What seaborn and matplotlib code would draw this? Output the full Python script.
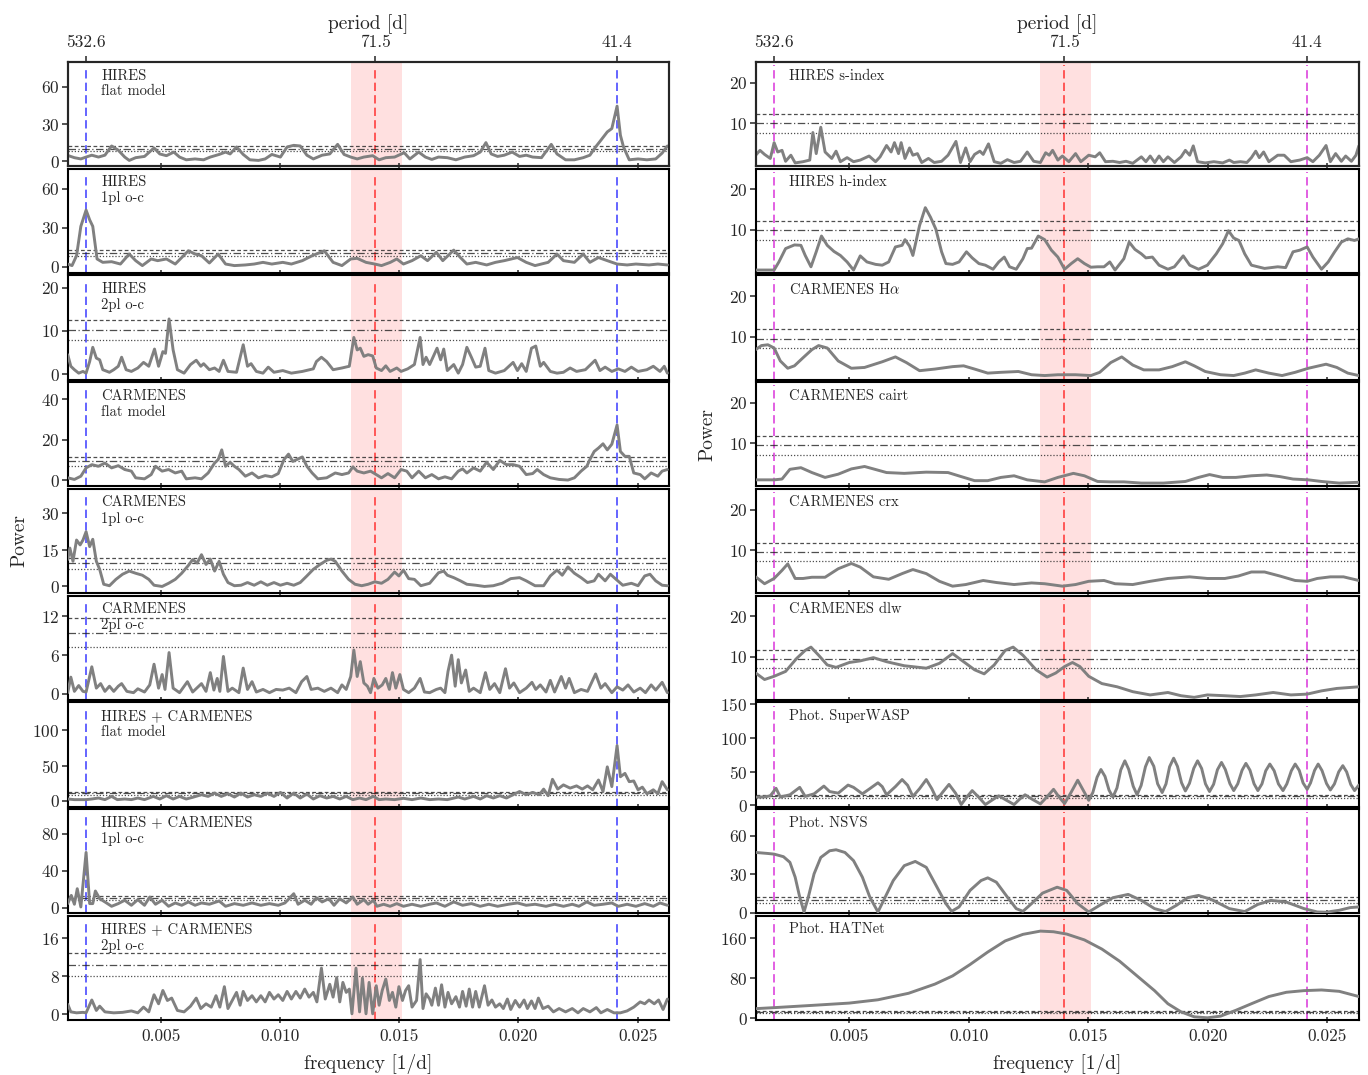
import numpy as np
import matplotlib
matplotlib.use("Agg")
import matplotlib.pyplot as plt
from matplotlib.ticker import FormatStrFormatter
import seaborn as sns

sns.set_style("ticks")
plt.rcParams.update({
    "font.family": ["cmr10", "DejaVu Serif"],
    "mathtext.fontset": "cm",
    "axes.formatter.use_mathtext": True,
    "axes.unicode_minus": False,
})

# ---------------- data (frequency in units of 1e-4 1/d, power) ----------------
f_hires_flat = [11.0,13.8,16.5,18.7,21.1,23.9,26.6,29.4,32.2,34.9,36.8,39.5,43.2,47.2,49.6,52.4,55.5,57.9,60.7,64.4,68.0,70.8,74.5,77.2,79.1,81.8,84.6,87.4,91.0,93.8,96.6,100.2,103.0,105.8,108.5,111.3,114.0,117.7,120.9,124.2,126.9,129.7,132.4,135.2,138.9,141.6,144.4,148.1,152.1,154.5,158.2,161.0,163.7,166.5,170.2,173.8,177.5,181.2,184.0,186.4,188.6,191.3,194.1,197.4,200.5,203.3,206.0,209.7,213.8,216.2,219.8,223.5,227.2,230.0,232.4,234.6,237.3,239.2,241.4,242.8,244.1,246.5,250.2,253.9,257.6,260.3,262.5]
p_hires_flat = [4.8,3,2,3.5,5,3.5,5,12.4,9,3.5,0.8,3,4,10.8,6,4.6,7.5,3.5,1.3,2,1.3,3.5,5.6,7.5,6,11.6,5.6,1.3,0.8,2,5.6,3.5,11.6,12.9,12.4,5,2,5,6,13.7,5.6,3.5,2,3.5,4.6,1.3,3,3.5,7,2,7.5,3.5,1.6,3.5,3,1.3,3.5,4.6,7.5,15.1,6,4,5,7.5,4,5,3.5,3,13.7,6,1.3,1.3,3,5,11.6,17,23.7,26.4,44.4,21,11.6,1.3,2,1.3,2,6.7,12.4]

f_hires_1pl = [11.0,12.8,14.7,16.5,18.7,20.2,21.5,23.3,25.7,29.4,33.1,36.8,39.5,42.3,46.0,48.7,52.4,56.1,61.6,64.4,67.1,70.4,74.1,77.2,80.9,85.5,89.2,92.9,96.6,101.2,104.8,109.4,113.5,118.6,122.3,126.0,129.7,132.4,136.1,139.8,142.6,146.3,149.0,151.8,155.4,159.1,161.9,165.6,168.3,172.9,175.7,178.4,182.1,186.7,190.4,194.1,199.6,203.3,207.0,212.5,216.2,218.9,223.5,227.2,230.0,233.6,237.3,241.4,245.6,249.3,254.8,258.5,262.5]
p_hires_1pl = [2,0.8,8.4,31,43.5,36,31,5.9,3.3,3.8,2,9.7,4.6,0.8,5.9,4.6,5.9,2,12.2,9.7,8.4,2.8,9.7,2,0.8,1.3,2,3.3,2,3.3,2,4.6,8.4,12.2,3.3,0.8,5.9,6.4,3.3,2,0.8,3.3,5.9,2,4.6,8.4,4.6,11,4.6,12.7,7,2,3.3,1.3,3.3,4.6,7,3.3,0.8,3.3,9.7,4.6,3.3,9.7,3.3,7,4.6,2,1.3,2,1.3,2,1.3]

f_hires_2pl = [11.0,12.3,13.8,15.6,17.4,18.7,20.2,21.5,23.0,24.4,25.7,28.5,30.3,32.2,33.6,35.5,37.7,40.4,42.8,45.0,47.4,49.1,50.9,52.0,53.5,55.2,57.0,59.8,62.5,64.9,66.8,68.0,70.4,72.6,74.5,76.3,78.2,81.8,84.6,86.4,87.9,90.1,92.9,95.1,97.5,101.2,104.8,109.4,114.0,115.3,117.4,119.6,122.3,126.0,129.1,131.0,132.4,133.7,135.2,137.0,138.9,140.4,142.6,144.4,146.2,149.0,150.8,153.6,156.4,158.8,160.0,161.3,162.8,165.9,167.4,168.7,170.2,172.9,174.8,176.6,178.4,180.3,182.1,184.0,186.0,187.6,190.4,194.1,197.8,199.6,201.4,203.3,205.5,207.3,209.2,210.6,213.4,216.2,218.9,221.7,224.4,228.1,232.2,234.2,236.4,239.2,241.9,244.7,247.4,250.2,253.9,256.6,259.4,261.2,262.5]
p_hires_2pl = [4.5,1.8,1,0.2,0.6,0.2,2.9,6.2,3.7,3.3,1,0.4,1,1.8,3.9,1,0.6,1.4,2.7,1.8,5.8,1.8,5.2,4.8,12.8,5.6,1,0.2,2.2,3.2,1.8,2.4,1,1.4,0.6,3.2,0.6,0.4,6.8,1.8,2.4,0.6,0.2,1.6,0.4,0.8,0.2,0.6,1.2,2.9,3.9,2.9,1,1.4,1.8,8.5,5.6,6,4.1,4.5,4.2,1.4,0.8,1.9,0.6,1.4,0.6,1.2,2.2,8.5,2.2,3.9,2.2,6,3.3,5.8,0.8,2.2,0.2,2.2,6.2,3.9,1.6,1.8,6,0.8,0.2,0.8,2.7,0.8,2.4,0.6,6,6.5,1.8,2.7,0.6,0.2,0.4,1.4,0.6,1,3.2,0.8,1.6,0.6,1.2,0.6,1.6,0.6,1,1.8,0.6,1.8,0.2]

f_carm_flat = [11.0,13.8,16.5,18.7,21.1,23.9,26.6,29.4,32.2,34.9,37.7,39.5,43.2,46.0,47.8,50.6,53.3,56.1,58.8,60.7,64.4,67.1,69.9,72.6,74.1,75.6,77.2,79.1,80.9,82.8,85.5,88.3,91.0,93.8,96.6,99.3,101.7,103.6,105.4,107.6,109.4,111.3,113.5,115.9,119.6,123.2,126.0,128.8,130.6,132.4,135.2,138.0,140.4,142.6,145.3,148.1,150.8,153.2,155.4,158.2,161.0,163.7,166.5,169.2,172.0,174.8,176.6,178.4,181.2,184.0,186.7,189.5,192.2,195.0,197.8,200.5,203.3,206.0,207.9,210.6,213.4,217.1,220.8,223.5,226.3,228.7,230.0,231.8,233.6,235.5,237.3,239.2,241.4,242.8,244.7,246.5,248.4,251.1,253.0,255.7,258.5,260.3,262.5]
p_carm_flat = [1.3,0.5,2.1,6.2,7.8,7,8.6,6.2,7.3,5.4,4.6,1.3,0.8,2.9,7,4.6,5.4,3.7,4.6,0.8,1.3,0.8,3.7,8.6,10.3,15.1,7,9,7,5.4,2.1,3.7,1.3,2.4,1.8,3.4,10.3,13,9.4,10.6,11.6,7,3.7,0.8,1.3,3.7,2.9,3.7,6.7,4.6,3.7,4.6,2.9,1.3,3.4,1.3,5.4,4.6,1.3,4.6,1.3,2.9,0.8,1.8,0.8,4.6,5.7,3.7,6.2,4.6,9,5.4,9.9,7.8,7.8,7,2.9,3.4,5.4,2.9,1.3,0.5,0.2,1.3,4.6,7,10.3,14.3,16,18.1,15.1,17.9,27.4,14.3,11.9,11.9,3.7,2.9,0.8,3.7,2.1,4.6,5.4]

f_carm_1pl = [11.0,11.9,13.2,14.7,16.2,17.4,18.7,20.2,21.5,23.0,24.4,26.1,28.5,31.2,34.0,36.8,39.5,42.3,45.0,47.2,50.6,53.3,56.1,58.8,61.6,63.4,65.3,67.1,69.0,70.8,72.6,74.5,76.3,78.2,80.9,83.7,86.4,89.2,92.0,94.7,97.5,100.2,103.0,105.8,108.5,111.3,114.0,116.8,119.6,121.4,123.2,126.0,128.8,131.5,134.3,137.0,139.8,142.6,145.3,148.1,149.9,151.8,154.0,156.4,159.1,162.8,166.5,168.7,170.2,172.9,175.7,178.4,182.1,185.8,189.5,193.2,196.8,200.5,203.3,207.0,210.6,213.4,216.2,218.4,220.8,223.5,226.3,229.0,231.8,233.6,236.4,238.6,241.0,243.8,247.4,250.2,253.0,255.2,257.6,260.3,262.5]
p_carm_1pl = [11,15.7,10.3,19,17,19,22.4,16.3,19.3,10.3,7,0.9,0.3,2.9,5,6.3,5.4,4.6,2.9,0.5,0,1.3,2.9,5.4,8.6,11,9.6,13,9,11.2,6.3,10.3,5,1.6,0.3,0.5,1.6,0.5,1.9,0.5,1.6,0.5,1.3,0.5,1.6,4.3,7,9,10.7,11.2,10.3,6.3,2.9,0.9,0.3,0.9,1.9,1.3,2.9,5.9,4.3,6.7,3.2,2.9,0.3,1.3,5.6,6.3,4.6,3.6,2.3,0.9,0.5,0,0.3,1.3,3.2,3.6,2.3,0.3,0.3,4.3,6.7,4.6,8,5.4,3.6,1.6,2.3,5,2.3,5,2.9,0.5,1.3,0.3,4.3,5,2.3,0.5,0.3]

f_carm_2pl = [11.0,12.3,13.8,15.6,17.4,18.7,21.1,23.0,24.8,26.6,28.5,30.3,32.2,33.6,35.8,38.6,40.4,43.2,45.4,47.2,49.1,50.6,51.8,53.5,55.2,57.9,61.2,63.4,67.1,69.0,70.8,72.3,73.7,74.8,76.3,78.2,80.0,82.8,84.6,86.4,88.3,90.1,92.9,95.6,98.4,101.2,103.9,106.7,109.1,111.3,113.1,115.9,118.6,121.4,124.2,126.0,127.8,129.7,131.0,132.4,133.7,135.2,136.7,138.0,139.4,141.1,142.9,144.4,145.9,147.2,148.6,150.3,151.8,154.0,156.4,158.8,160.6,162.8,165.6,167.4,169.2,170.5,172.0,173.5,174.8,176.1,177.9,179.4,181.2,184.0,186.2,188.0,190.0,192.2,194.6,196.3,198.1,200.5,203.3,205.7,207.3,209.2,211.6,213.4,215.2,218.0,219.8,221.3,223.5,226.3,229.0,232.4,234.6,236.4,239.2,241.4,243.8,246.0,248.4,251.1,253.3,255.7,257.6,260.3,262.5]
p_carm_2pl = [0.2,2.6,0.4,1.3,0.4,0.3,4.2,0.9,1.6,0.4,1.2,0.4,1.2,1.6,0.4,0.2,0.8,0.3,1.4,4.6,0.9,3,0.7,6.4,0.9,0.2,1.9,0.3,1.6,0.4,3.3,0.6,2.4,0.4,5.8,0.4,0.9,0.2,4,0.7,1.9,0.3,0.7,0.2,0.7,0.6,0.9,0.2,1.9,2.7,0.7,0.9,0.4,0.9,0.2,1.4,0.7,2.7,6.8,2.7,5,1.7,1.2,0.2,2.4,0.9,1.4,2.4,0.7,3.3,0.9,3,0.7,0.2,0.9,2.4,0.3,0.2,0.7,0.9,0.2,3.5,6,1.2,5.3,1.7,3.7,0.4,0.9,0.2,3.3,0.7,1.6,0.2,3.9,0.9,1.7,0.2,0.9,1.8,0.7,1.4,0.3,2.1,0.3,2.7,0.9,2.4,0.2,0.7,0.4,3.1,0.9,1.6,0.2,1.1,0.6,1.4,0.3,0.9,0.2,1.4,0.6,1.8,0.2]

f_comb_flat = [11.0,13.8,16.5,18.7,21.1,23.9,26.6,29.4,31.8,34.9,37.7,40.4,43.2,46.9,49.6,52.4,55.2,57.9,60.7,63.4,67.1,69.9,72.6,75.4,78.2,80.9,83.7,86.4,89.2,92.0,94.7,97.5,100.2,103.0,105.8,108.5,111.3,114.0,116.8,119.6,122.3,125.1,127.8,130.6,133.4,136.1,139.2,141.6,144.4,148.1,151.8,155.4,159.1,162.8,166.5,170.2,174.8,177.5,181.2,184.0,186.7,189.5,192.2,195.0,197.8,200.5,203.3,206.0,208.8,210.6,212.5,214.3,216.5,218.9,221.7,224.4,226.8,229.0,231.2,233.6,235.5,237.3,239.2,241.4,242.8,244.7,246.5,248.4,250.2,252.0,253.9,256.6,258.5,260.3,262.5]
p_comb_flat = [2.3,1.4,1.4,1.4,2.3,3.7,1.4,6,1.4,2.3,1.4,3.7,1.4,6,2.3,7,2.3,6,2.3,4.7,8.4,6,10.7,6,9.8,5.1,10.7,5.1,8.4,6,10.7,6,11.7,3.7,10.7,3.7,9.3,2.3,7,3.7,6,2.3,6,1.4,3.7,1.4,6,1.4,2.3,1.4,3.3,1.4,3.7,1.4,2.3,1.4,5.1,2.3,6,2.3,7,3.7,7,3.7,8.4,13,8.4,11.7,8.4,16.4,7,30.4,16.4,22.4,17.8,21,16.4,21,15.4,29.4,13,48.1,20,78.5,34,38.8,27,28,15.4,19.2,9.8,15.4,9.8,27,15.4]

f_comb_1pl = [11.0,12.5,13.8,15.0,16.5,18.7,20.2,21.5,22.6,24.4,26.6,29.4,32.2,34.9,37.7,40.4,43.2,45.4,47.8,50.6,53.3,56.1,58.8,61.6,64.4,67.1,70.4,74.5,77.2,80.9,84.6,88.3,92.0,95.6,99.3,102.1,105.8,107.6,110.4,113.1,115.3,117.7,120.5,122.7,125.1,127.8,130.6,132.4,135.2,137.0,139.2,140.7,143.5,146.2,149.0,151.8,155.4,159.1,162.8,165.6,169.2,172.9,176.6,180.3,184.0,187.6,191.3,195.9,199.6,203.3,207.0,211.6,215.2,218.9,222.6,225.4,228.7,231.8,235.5,239.2,241.9,245.6,249.3,253.0,256.6,259.4,262.5]
p_comb_1pl = [4.3,13.2,3.6,20.4,0.7,59.6,4.3,4.3,17.9,9.6,6.1,1.4,4.3,7.9,2.5,8.6,2.5,11.4,3.6,7.9,1.4,5,2.5,6.1,2.5,5,3.6,7.1,1.4,4.3,2.5,5,2.5,4.3,2.5,5,15,3.6,7.9,3.6,10.7,6.1,9.6,2.5,9.6,5,11.4,3.6,8.6,3.6,7.9,1.4,3.6,1.4,4.3,1.4,3.6,1.4,3.6,5,1.4,6.1,2.5,4.3,1.4,3.6,1.4,3.6,5,2.5,3.6,1.4,3.6,1.4,3.6,1.4,6.1,2.5,3.6,5,1.4,3.6,1.4,4.3,1.4,5,2.5]

f_comb_2pl = [11.0,12.3,14.7,17.4,18.7,21.1,23.0,24.4,26.6,30.3,34.0,37.7,40.4,42.8,45.0,47.2,49.1,50.9,52.8,54.6,57.0,59.8,62.5,64.9,66.8,69.0,71.2,73.2,74.8,76.7,78.2,80.0,81.8,83.3,84.6,86.4,88.3,90.1,92.0,93.8,95.6,97.5,99.3,101.2,103.0,104.8,106.7,108.5,110.4,112.2,114.0,115.5,117.4,119.0,120.9,122.3,123.8,125.1,126.4,127.8,129.1,130.2,131.9,133.4,134.6,136.1,137.4,138.9,140.4,141.6,142.9,144.4,145.9,147.2,148.6,149.9,151.4,152.7,154.0,155.4,157.3,158.8,160.0,161.3,162.8,163.7,165.2,166.5,167.8,169.2,170.5,172.0,173.8,175.3,176.6,178.1,179.4,180.8,182.1,183.6,185.8,187.3,188.9,190.4,192.2,193.7,195.4,196.8,198.7,200.5,202.4,203.8,205.5,207.0,208.4,210.3,212.5,214.7,217.1,219.8,222.6,225.0,227.2,230.0,232.7,234.6,237.3,240.1,242.8,245.6,248.4,251.1,253.0,254.8,257.0,258.8,260.7,262.5]
p_comb_2pl = [2.1,0.5,0.3,0.4,0.3,3,0.8,1.7,0.5,0.3,0.4,0.7,0.3,1.5,0.5,4.1,2.2,5,2.9,3.4,0.8,0.5,1.7,3.4,1.2,2.2,1.5,3.9,1.5,5.8,1.2,2.9,4.6,1.9,4.8,2.9,3.9,2.6,3.9,2.6,4.6,3.2,4.1,2.9,4.8,3.2,4.8,3.4,5.3,3.6,4.6,2.6,9.7,3.2,6.3,3.6,7.7,2.6,6.7,4.6,5.3,0.1,9.7,0.5,7.6,0.1,6.7,0.1,6,1.9,5,7.4,2.9,4.6,1.5,5.8,2.9,5,6,1.5,2.9,11.5,1.2,4.3,3.2,1.9,5.5,1.9,6.2,1.5,4.6,2.2,3.7,1.5,4.8,1.7,5.3,1.5,4.8,1.5,6,1.9,3,1.5,2.2,1.2,3.2,1,2.9,1.5,3,1.2,2.8,1.2,3.4,1.2,1.7,0.5,1.2,0.5,1.2,0.3,1.2,0.5,1.4,0.3,1,0.3,0.3,0.7,1.5,2.6,2.2,3,2.2,3,1,3.2]

f_sindex = [11.0,12.8,14.7,17.1,18.7,20.2,22.0,23.5,25.7,27.5,30.8,33.6,34.9,36.3,38.2,40.0,42.8,44.6,46.4,49.2,51.9,54.7,58.4,61.1,63.0,65.7,67.6,69.0,70.7,71.8,73.4,75.3,76.7,78.6,80.4,83.2,85.6,88.7,91.4,94.7,96.6,98.8,100.6,102.5,104.7,106.1,108.3,110.7,113.5,116.2,119.0,121.7,124.5,127.2,130.0,132.2,133.7,135.1,137.3,139.2,141.9,144.7,146.9,150.2,152.9,154.8,157.2,160.3,163.1,165.8,168.6,172.2,174.1,175.9,177.8,179.6,181.4,183.3,186.0,188.8,190.6,192.4,193.9,195.7,198.9,202.5,206.2,209.0,210.8,213.6,216.3,218.2,220.0,221.5,223.3,225.5,229.2,231.9,234.7,238.4,241.5,243.9,246.6,249.4,251.2,253.4,255.8,257.6,260.0,261.9,263.1]
p_sindex = [2.1,3.3,2.3,1.3,5.2,2.9,3.3,0.6,2.1,0.2,0.5,0.9,7.7,2.5,9,2.9,1.3,3.1,0.5,1.5,0.5,0.9,1.9,0.5,1.7,4.5,2.9,5.2,2.5,5.2,1.3,3.9,2.1,2.5,0.3,1.3,0.3,0.6,2.1,5.5,0.3,3.9,0.5,2.3,3.1,2.3,4.9,0.5,0.1,1,0.3,0.6,2.9,0.6,0.3,2.7,2.1,3.3,0.9,1.9,0.5,2.5,0.5,2.1,1.7,2.7,0.5,0.6,0.3,0.6,0.1,1.7,0.5,1.9,0.3,1.9,0.5,1.7,0.3,1.7,3.3,2.1,4.4,0.5,0.2,0.5,0.2,0.9,0.3,0.5,0.3,1.5,3.1,1.5,2.9,0.5,2.1,2.1,0.5,0.9,1.5,0.5,2.1,4.5,0.5,2.5,0.6,1.9,0.6,2.1,4.4]

f_hindex = [11.0,18.7,20.7,23.5,27.2,29.9,31.7,34.1,36.3,38.5,40.9,43.7,46.4,49.2,51.9,54.7,57.5,61.1,63.9,66.6,69.4,72.2,73.4,75.3,76.7,79.5,81.9,84.1,86.3,88.7,90.5,93.3,96.0,99.1,101.5,104.3,107.0,110.2,112.6,114.9,117.1,119.9,122.7,124.5,126.3,129.1,131.8,134.6,137.3,140.1,142.9,145.6,148.4,151.1,153.9,156.6,159.0,161.2,164.9,167.1,169.5,172.2,174.1,176.8,179.6,183.3,186.0,189.7,192.4,196.1,199.8,203.5,206.2,208.6,210.8,213.0,215.4,218.2,220.9,223.7,226.4,229.2,232.5,235.6,238.4,241.5,243.9,247.5,250.3,253.0,255.8,258.5,261.3,263.1]
p_hindex = [0.1,0.1,2.1,5.4,6.3,6.2,3.7,0.9,4.6,8.5,6.2,4.7,3.7,2.1,0.1,3.6,2.1,1.5,1.3,2.1,5.8,6.2,7.6,6,3.7,11.1,15.5,13.1,10.2,4.6,1.7,1.5,2.1,4.6,3.1,1.7,1.3,0.3,2.1,3.3,0.9,0.3,2.9,5.4,5.5,8.5,7.6,5,3.3,0.3,1.7,2.9,1.7,0.8,0.9,0.9,2.1,0.1,2.9,7,5.2,4.1,3.1,3.3,1.3,0.3,0.9,3.6,1.3,0.3,1.3,4.1,6.6,9.8,8,7.4,4.1,1.3,0.9,0.5,0.7,0.9,0.7,4.6,5,5.8,3.3,0.3,2.1,4.6,7,7.8,7.4,7.8]

f_halpha = [11.0,13.4,16.1,18.7,21.3,24.4,27.2,30.8,34.5,37.3,40.9,45.5,51.0,56.5,63.9,69.4,74.0,79.5,85.9,93.3,97.9,102.5,108.0,113.5,120.8,126.3,131.8,137.3,144.7,151.1,154.8,159.4,164.0,168.6,173.2,179.6,185.1,190.6,194.3,198.9,205.3,210.8,215.4,220.0,225.5,231.0,236.5,242.0,249.4,253.9,258.5,263.1]
p_halpha = [6.8,7.8,8,7.2,4,2.2,2.8,4.8,6.8,7.8,7.2,4,2.2,2.4,3.8,5,3.6,1.6,2,2.6,2.8,2,1,1.2,1.4,0.6,0.4,0.6,0.6,0.4,1.2,3.6,5,3,1.8,1.8,2.6,3.8,2.8,1.4,0.6,0.4,1,1.8,1,0.4,1.2,2.2,3.2,2.4,1,0.4]

f_cairt = [11.0,18.7,22.0,25.3,29.9,34.5,40.0,45.5,51.0,56.5,60.2,65.7,73.1,82.3,91.4,96.9,102.5,108.0,113.5,119.0,124.5,131.8,137.3,143.8,148.4,153.9,159.4,164.9,172.2,181.4,190.6,196.1,200.7,206.2,211.7,218.2,224.6,230.1,235.6,242.0,247.5,254.9,263.1]
p_cairt = [1,1,1.2,3.6,4,2.8,1.6,2.4,3.7,4.3,3.7,2.8,2.6,2.9,2.8,1.8,0.8,0.8,1.6,2,1,0.5,1.6,2.6,2,0.6,0.5,0.5,0.2,0.2,0.6,1.6,2.3,1.6,1.6,2,2.2,1.8,1.2,1,0.6,0.2,0.4]

f_crx = [11.0,14.7,18.7,22.0,24.4,27.5,30.8,34.5,40.0,45.5,51.0,54.7,60.2,66.6,72.2,76.7,82.3,87.8,93.3,98.8,106.1,111.6,119.0,126.3,131.8,139.2,144.7,150.2,156.6,161.2,168.6,175.9,183.3,192.4,199.8,207.1,212.7,218.2,223.7,230.1,236.5,241.5,245.7,251.2,256.7,263.1]
p_crx = [3.4,1.7,3,5,6.6,3,3,3.3,3.3,5.4,6.7,5.8,3.4,2.8,4.2,5.2,4.2,2.3,1.1,1.5,2.5,2,1.5,1.9,1.7,1.1,1.5,2.3,2.5,1.7,1.5,2.3,3,3.4,3,3,3.6,4.6,4.6,3.6,2.5,2.3,3,3.4,3.4,2.5]

f_dlw = [11.0,14.7,18.7,23.5,28.1,31.7,34.1,37.3,40.9,44.6,50.1,54.7,60.2,65.7,73.1,82.3,87.8,93.3,97.9,102.5,106.5,110.7,115.3,118.6,122.7,128.2,132.8,136.4,140.1,143.4,146.5,150.2,155.7,162.1,168.6,175.9,183.3,188.8,194.3,199.8,207.1,213.6,220.0,227.3,234.7,241.5,247.5,253.9,263.1]
p_dlw = [6,4.4,5.2,6.4,9.6,11.6,12.4,10.4,8,7.4,8.6,9,9.8,8.8,7.8,7.2,8.4,10.8,8.8,6.8,5.8,8,11.6,12.4,10.4,6.8,5,6,7.6,8.6,7.6,5.2,3.4,2.6,1.4,0.6,1.2,0.4,0,0.6,0.4,0.2,0.6,1.2,0.6,0.8,1.6,2.2,2.6]

f_swasp = [11.0,14.3,17.1,19.5,21.3,25.3,29.4,31.7,35.4,39.5,41.9,45.5,49.6,51.9,55.6,58.7,62.1,63.9,65.7,69.4,72.2,74.5,76.7,79.5,82.3,84.6,86.8,89.2,91.8,94.6,96.9,99.1,101.5,104.3,107.0,109.8,112.6,115.7,119.0,121.2,123.6,126.7,130.0,132.8,135.5,137.7,140.1,142.9,145.6,148.0,150.2,151.9,153.7,155.3,157.0,158.7,160.3,162.0,163.6,165.3,166.9,168.8,170.4,172.1,173.9,175.5,177.4,179.0,180.9,182.5,184.0,185.7,187.3,189.0,190.6,192.3,194.1,195.7,197.4,199.0,200.7,202.4,204.0,205.7,207.3,209.2,210.8,212.5,214.3,215.9,217.6,219.3,220.9,222.6,224.2,225.9,227.7,229.5,231.4,233.0,234.9,236.5,238.2,239.8,241.5,242.9,244.6,246.1,247.7,249.6,251.2,252.9,254.7,256.4,258.0,259.7,261.3,263.1]
p_swasp = [12.5,12.5,14.4,25.5,12.5,15.9,26.9,13.5,17.3,28.8,20.7,18.3,30.3,26.9,17.3,25,33.7,28,15.9,28,38.5,30,13.5,25,38.5,25,8.7,20,31.3,18,1.4,12,22.1,12,1.4,8,14.4,8,1.4,9,15.9,9,2.4,13,24,13,2.9,20,37.5,22,7.7,19.1,42,53.4,43.2,22.7,12.5,26,52.8,66.3,53.7,28.5,15.9,29.7,57.4,71.2,58.2,32.2,19.2,32,57.5,70.2,58,33.7,21.6,32.8,55.1,66.3,54.9,32.1,20.7,31.5,53.1,63.9,53.4,32.5,22.1,32.2,52.4,62.5,52.4,32.2,22.1,32,51.6,61.5,51.6,32,22.1,32,51.6,61.5,52.1,33.4,24,33.4,52.1,61.5,51.9,32.6,23,32,50,59.1,49.9,31.3,22.1,30.3]

f_nsvs = [11.0,16.1,18.7,22.6,25.3,27.5,29.4,31.2,33.0,35.4,38.2,41.9,44.6,48.3,51.9,55.6,58.7,62.1,64.8,68.5,73.1,77.7,82.3,86.8,90.5,92.9,96.0,100.6,105.2,108.0,111.6,116.2,119.9,122.7,126.3,130.9,137.0,141.0,145.6,150.2,154.8,160.3,166.7,172.2,177.7,182.3,186.9,191.5,196.1,201.6,209.0,215.4,220.9,226.4,232.8,240.2,245.7,249.4,254.9,259.5,263.1]
p_nsvs = [46.9,46.1,45.6,43.6,39.2,27.6,12.1,0.5,12.1,30.2,43,48.2,49,46.9,40.5,27.6,12.1,0.5,10.8,25,36.6,39.9,35.3,19.8,7,1,4.4,17.3,25,27.1,23.7,12.1,3.1,1,7,15.2,19.8,17.3,7,0.5,5.7,11.6,14.2,9.5,3.1,0.8,5.7,11.6,13.4,10.1,3.1,0.8,6.4,9.5,8.2,3.1,0.5,0.3,1.8,3.9,4.4]

f_hatnet = [11.0,18.7,34.5,50.1,62.1,74.9,85.9,93.3,100.6,108.0,115.3,122.7,130.0,135.5,141.0,148.4,155.7,163.1,170.4,177.7,183.3,188.8,194.3,199.8,205.3,211.7,218.2,225.5,232.8,240.2,247.5,254.9,263.1]
p_hatnet = [19.6,21.6,26.1,30.7,37.3,50.3,68.6,85,107.8,132.7,154.9,168,174.5,173.2,168.6,156.9,138.6,114.4,85,55.6,29.4,13.1,3.3,1.3,4.6,16.3,29.4,43.8,52.3,55.6,56.9,54.2,43.8]

# false-alarm levels (0.1%, 1%, 10%)
fap_hires = [12.5, 10.3, 8.0]
fap_carm = [11.8, 9.4, 7.2]
fap_comb = [12.8, 10.3, 8.0]
fap_act_h = [12.3, 10.0, 7.6]
fap_act_c = [11.8, 9.5, 7.2]
fap_swasp = [15.9, 13.5, 11.0]
fap_nsvs = [12.1, 10.0, 7.7]
fap_hatnet = [15.5, 12.8, 10.2]

periods = [532.6, 71.5, 41.4]
band = [0.0130, 0.0151]

left_panels = [
    (f_hires_flat, p_hires_flat, "HIRES\nflat model", fap_hires, (-3.8, 79.8), [0, 30, 60]),
    (f_hires_1pl, p_hires_1pl, "HIRES\n1pl o-c", fap_hires, (-4.8, 75.3), [0, 30, 60]),
    (f_hires_2pl, p_hires_2pl, "HIRES\n2pl o-c", fap_hires, (-1.3, 22.9), [0, 10, 20]),
    (f_carm_flat, p_carm_flat, "CARMENES\nflat model", fap_carm, (-2.9, 48.5), [0, 20, 40]),
    (f_carm_1pl, p_carm_1pl, "CARMENES\n1pl o-c", fap_carm, (-2.7, 39.9), [0, 15, 30]),
    (f_carm_2pl, p_carm_2pl, "CARMENES\n2pl o-c", fap_carm, (-0.9, 15.2), [0, 6, 12]),
    (f_comb_flat, p_comb_flat, "HIRES + CARMENES\nflat model", fap_comb, (-8.4, 140), [0, 50, 100]),
    (f_comb_1pl, p_comb_1pl, "HIRES + CARMENES\n1pl o-c", fap_comb, (-6.1, 106.4), [0, 40, 80]),
    (f_comb_2pl, p_comb_2pl, "HIRES + CARMENES\n2pl o-c", fap_comb, (-1.2, 20.7), [0, 8, 16]),
]
right_panels = [
    (f_sindex, p_sindex, "HIRES s-index", fap_act_h, (-0.6, 25.1), [10, 20]),
    (f_hindex, p_hindex, "HIRES h-index", fap_act_h, (-0.6, 25.1), [10, 20]),
    (f_halpha, p_halpha, r"CARMENES H$\alpha$", fap_act_c, (-0.6, 25.1), [10, 20]),
    (f_cairt, p_cairt, "CARMENES cairt", fap_act_c, (-0.6, 25.1), [10, 20]),
    (f_crx, p_crx, "CARMENES crx", fap_act_c, (-0.6, 25.1), [10, 20]),
    (f_dlw, p_dlw, "CARMENES dlw", fap_act_c, (-0.6, 25.1), [10, 20]),
    (f_swasp, p_swasp, "Phot. SuperWASP", fap_swasp, (-1.5, 153), [0, 50, 100, 150]),
    (f_nsvs, p_nsvs, "Phot. NSVS", fap_nsvs, (-0.5, 80.7), [0, 30, 60]),
    (f_hatnet, p_hatnet, "Phot. HATNet", fap_hatnet, (-3, 205), [0, 80, 160]),
]

XLIM = (1 / 900.0, 1 / 38.0)

fig = plt.figure(figsize=(13.68, 10.75), dpi=100)
gsL = fig.add_gridspec(9, 1, left=0.0497, right=0.489, top=0.9423, bottom=0.0512, hspace=0.025)
gsR = fig.add_gridspec(9, 1, left=0.5526, right=0.9934, top=0.9423, bottom=0.0512, hspace=0.025)

fap_styles = [(0, (3, 2)), (0, (6, 2, 1, 2)), (0, (1, 1.5))]


def draw_column(gs, panels, vcolor, vtop, ylabel_idx, ylabelpad):
    axes = []
    for i, (f, p, lab, fap, ylim, yt) in enumerate(panels):
        ax = fig.add_subplot(gs[i])
        ax.axvspan(band[0], band[1], color="#ff0000", alpha=0.12, lw=0, zorder=0)
        for per in periods:
            col = "#ff4040" if per == 71.5 else vcolor
            ax.axvline(1.0 / per, ymin=0, ymax=vtop, color=col, ls=(0, (5, 2.5)), lw=1.2, zorder=1)
        for lev, ls in zip(fap, fap_styles):
            ax.axhline(lev, color="#222222", ls=ls, lw=0.9, alpha=0.8, zorder=1)
        sns.lineplot(x=np.array(f) * 1e-4, y=np.array(p), ax=ax, color="#808080", lw=2.1, zorder=3)
        ax.set_xlim(*XLIM)
        ax.set_ylim(*ylim)
        ax.set_yticks(yt)
        ax.set_xticks([0.005, 0.010, 0.015, 0.020, 0.025])
        ax.xaxis.set_major_formatter(FormatStrFormatter("%.3f"))
        ax.tick_params(axis="y", direction="out", length=4, width=1.1, labelsize=12.5, pad=2)
        ax.tick_params(axis="x", direction="inout", length=5, width=1.1, labelsize=12.5, pad=4)
        ax.set_ylabel("")
        if i < len(panels) - 1:
            ax.tick_params(axis="x", labelbottom=False)
            ax.set_xlabel("")
        else:
            ax.set_xlabel("frequency [1/d]", fontsize=14, labelpad=7)
        for s in ax.spines.values():
            s.set_linewidth(1.5)
            s.set_color("black")
        ax.text(0.055, 0.935, lab, transform=ax.transAxes, ha="left", va="top",
                fontsize=10.5, linespacing=1.2)
        if i == ylabel_idx:
            ax.set_ylabel("Power", fontsize=14, labelpad=ylabelpad)
        if i == 0:
            top = ax.twiny()
            top.set_xlim(*XLIM)
            top.set_xticks([1.0 / per for per in periods])
            top.set_xticklabels([f"{per:g}" for per in periods])
            top.tick_params(axis="x", direction="out", length=4, width=1.1, labelsize=12.5, pad=5)
            top.set_xlabel("period [d]", fontsize=14, labelpad=4)
            for s in top.spines.values():
                s.set_linewidth(1.5)
        axes.append(ax)
    return axes


draw_column(gsL, left_panels, "#4a4aff", 0.93, 4, 9)
draw_column(gsR, right_panels, "#dd44dd", 0.97, 3, 9)

fig.savefig("out.png", dpi=100)
